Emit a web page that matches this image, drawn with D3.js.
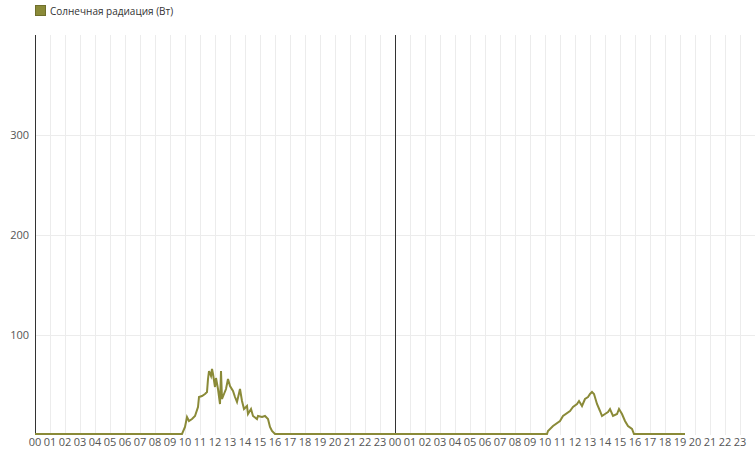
<!DOCTYPE html>
<html>
<head>
<meta charset="utf-8">
<script src="https://cdn.jsdelivr.net/npm/d3@7"></script>
<style>
  body { margin: 0; background: #fff; }
  text { font-family: "Open Sans", "Noto Sans", sans-serif; }
</style>
</head>
<body>
<svg id="chart"></svg>
<script>
const seriesName = "Солнечная радиация (Вт)";
const lineColor = "#8a8a38";

// time stamps (two days) and watt values
const times = [
  "2024-06-01T00:00", "2024-06-01T09:48", "2024-06-01T10:00", "2024-06-01T10:08",
  "2024-06-01T10:16", "2024-06-01T10:28", "2024-06-01T10:40", "2024-06-01T10:52",
  "2024-06-01T10:56", "2024-06-01T11:08", "2024-06-01T11:20", "2024-06-01T11:28",
  "2024-06-01T11:32", "2024-06-01T11:36", "2024-06-01T11:44", "2024-06-01T11:48",
  "2024-06-01T11:52", "2024-06-01T12:00", "2024-06-01T12:04", "2024-06-01T12:12",
  "2024-06-01T12:20", "2024-06-01T12:24", "2024-06-01T12:28", "2024-06-01T12:36",
  "2024-06-01T12:44", "2024-06-01T12:52", "2024-06-01T13:00", "2024-06-01T13:12",
  "2024-06-01T13:20", "2024-06-01T13:28", "2024-06-01T13:40", "2024-06-01T13:48",
  "2024-06-01T13:56", "2024-06-01T14:08", "2024-06-01T14:12", "2024-06-01T14:24",
  "2024-06-01T14:32", "2024-06-01T14:48", "2024-06-01T14:52", "2024-06-01T15:08",
  "2024-06-01T15:20", "2024-06-01T15:32", "2024-06-01T15:40", "2024-06-01T15:48",
  "2024-06-01T16:00",
  "2024-06-02T10:08", "2024-06-02T10:12", "2024-06-02T10:32", "2024-06-02T11:00",
  "2024-06-02T11:12", "2024-06-02T11:40", "2024-06-02T11:52", "2024-06-02T12:08",
  "2024-06-02T12:16", "2024-06-02T12:28", "2024-06-02T12:40", "2024-06-02T12:52",
  "2024-06-02T13:00", "2024-06-02T13:08", "2024-06-02T13:16", "2024-06-02T13:28",
  "2024-06-02T13:40", "2024-06-02T13:48", "2024-06-02T14:00", "2024-06-02T14:12",
  "2024-06-02T14:20", "2024-06-02T14:32", "2024-06-02T14:48", "2024-06-02T14:56",
  "2024-06-02T15:08", "2024-06-02T15:20", "2024-06-02T15:32", "2024-06-02T15:48",
  "2024-06-02T15:56", "2024-06-02T19:20"
];
const values = [
  0, 0, 7, 17,
  13, 15, 18, 27,
  37, 38, 40, 42,
  55, 63, 58, 65,
  60, 47, 56, 45,
  30, 63, 35, 40,
  45, 55, 48, 43,
  37, 32, 45, 33,
  25, 28, 20, 25,
  18, 15, 18, 17,
  18, 15, 7, 3,
  0,
  0, 3, 8, 13,
  18, 23, 27, 30,
  33, 28, 35, 37,
  40, 42, 40, 30,
  23, 18, 20, 22,
  25, 18, 20, 25,
  20, 13, 8, 5,
  0, 0
];
const yTicks = [100, 200, 300];
const dayStarts = ["2024-06-01T00:00", "2024-06-02T00:00"];
const domainStart = "2024-06-01T00:00";
const domainEnd = "2024-06-03T00:00";

const W = 755, H = 451;
const margin = { top: 35, right: 0, bottom: 16, left: 35 };
const parse = d3.timeParse("%Y-%m-%dT%H:%M");
const data = times.map((t, i) => ({ t: parse(t), v: values[i] }));

const svg = d3.select("#chart").attr("width", W).attr("height", H);

const x = d3.scaleTime()
  .domain([parse(domainStart), parse(domainEnd)])
  .range([margin.left, W - margin.right]);
const y = d3.scaleLinear()
  .domain([0, 400])
  .range([H - margin.bottom, margin.top]);

const hours = d3.timeHour.range(parse(domainStart), parse(domainEnd));

// grid
svg.append("g")
  .selectAll("line")
  .data(hours)
  .join("line")
  .attr("x1", (d) => x(d) + 0.5)
  .attr("x2", (d) => x(d) + 0.5)
  .attr("y1", margin.top)
  .attr("y2", H - margin.bottom)
  .attr("stroke", "#ececec");
svg.append("g")
  .selectAll("line")
  .data(yTicks)
  .join("line")
  .attr("x1", margin.left)
  .attr("x2", W - margin.right)
  .attr("y1", (d) => y(d) + 0.5)
  .attr("y2", (d) => y(d) + 0.5)
  .attr("stroke", "#ececec");

// day separators
svg.append("g")
  .selectAll("line")
  .data(dayStarts.map(parse))
  .join("line")
  .attr("x1", (d) => x(d) + 0.5)
  .attr("x2", (d) => x(d) + 0.5)
  .attr("y1", margin.top)
  .attr("y2", H - margin.bottom)
  .attr("stroke", "#333");

// y labels
svg.append("g")
  .selectAll("text")
  .data(yTicks)
  .join("text")
  .attr("x", margin.left - 6)
  .attr("y", (d) => y(d))
  .attr("dy", "0.35em")
  .attr("text-anchor", "end")
  .attr("font-size", "11px")
  .attr("fill", "#555")
  .text((d) => d);

// x labels
const fmt = d3.timeFormat("%H");
svg.append("g")
  .selectAll("text")
  .data(hours)
  .join("text")
  .attr("x", (d) => x(d))
  .attr("y", H - 5)
  .attr("text-anchor", "middle")
  .attr("font-size", "11px")
  .attr("fill", "#555")
  .text((d) => fmt(d));

// series
const line = d3.line()
  .x((d) => x(d.t))
  .y((d) => y(d.v) - 1);
svg.append("path")
  .datum(data)
  .attr("fill", "none")
  .attr("stroke", lineColor)
  .attr("stroke-width", 2)
  .attr("d", line);

// legend
const legend = svg.append("g").attr("transform", "translate(35, 5)");
legend.append("rect")
  .attr("x", 0.5).attr("y", 0.5)
  .attr("width", 10).attr("height", 10)
  .attr("fill", lineColor)
  .attr("stroke", "#6f6f2c");
legend.append("text")
  .attr("x", 15)
  .attr("y", 9.5)
  .attr("font-size", "10px")
  .attr("fill", "#333")
  .text(seriesName);
</script>
</body>
</html>
